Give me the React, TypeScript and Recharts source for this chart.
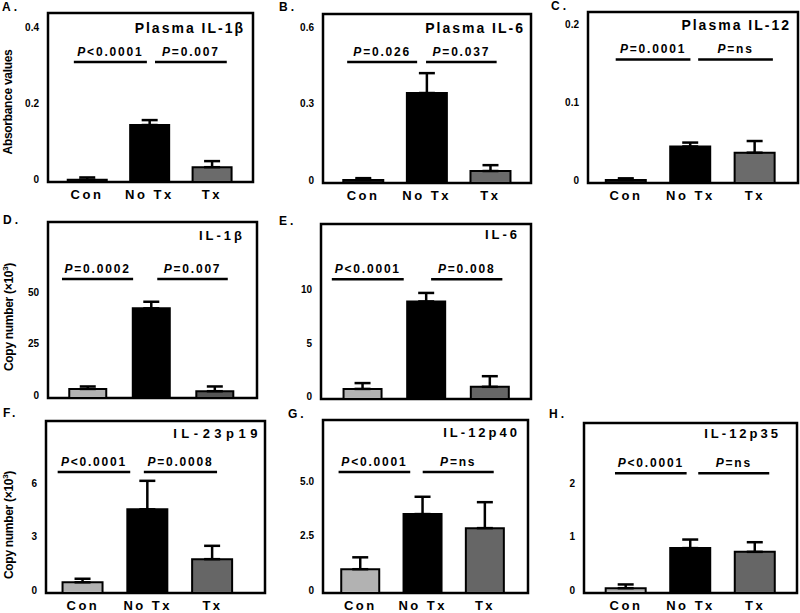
import React from 'react';
import { BarChart, Bar, XAxis, YAxis, ErrorBar, Cell, ReferenceArea, ReferenceLine } from 'recharts';

const categories = ['Con', 'No Tx', 'Tx'];
const catPos = [1, 2, 3];

// A. Plasma IL-1β
const aValues = [0.006, 0.15, 0.039];
const aErrors = [0.006, 0.013, 0.016];
const aTicks = [0, 0.2, 0.4];
const aTickLabels = ['0', '0.2', '0.4'];
const aPTexts = ['<0.0001', '=0.007'];
const aPSpans = [[0.79, 1.96], [2.09, 3.24]];
const aPLevel = 0.316;

// B. Plasma IL-6
const bValues = [0.012, 0.353, 0.047];
const bErrors = [0.007, 0.078, 0.023];
const bTicks = [0, 0.3, 0.6];
const bTickLabels = ['0', '0.3', '0.6'];
const bPTexts = ['=0.026', '=0.037'];
const bPSpans = [[0.75, 1.85], [1.99, 3.1]];
const bPLevel = 0.475;

// C. Plasma IL-12
const cValues = [0.004, 0.047, 0.039];
const cErrors = [0.002, 0.005, 0.015];
const cTicks = [0, 0.1, 0.2];
const cTickLabels = ['0', '0.1', '0.2'];
const cPTexts = ['=0.0001', '=ns'];
const cPSpans = [[0.84, 2.0], [2.12, 3.28]];
const cPLevel = 0.159;

// D. IL-1β
const dValues = [4.4, 43.5, 3.3];
const dErrors = [1.2, 3.2, 2.3];
const dTicks = [0, 25, 50];
const dTickLabels = ['0', '25', '50'];
const dPTexts = ['=0.0002', '=0.007'];
const dPSpans = [[0.59, 1.71], [2.09, 3.2]];
const dPLevel = 57.8;

// E. IL-6
const eValues = [0.95, 9.2, 1.15];
const eErrors = [0.55, 0.8, 1.0];
const eTicks = [0, 5, 10];
const eTickLabels = ['0', '5', '10'];
const ePTexts = ['<0.0001', '=0.008'];
const ePSpans = [[0.52, 1.65], [2.08, 3.2]];
const ePLevel = 11.3;

// F. IL-23p19
const fValues = [0.6, 4.7, 1.9];
const fErrors = [0.2, 1.6, 0.75];
const fTicks = [0, 3, 6];
const fTickLabels = ['0', '3', '6'];
const fPTexts = ['<0.0001', '=0.0008'];
const fPSpans = [[0.61, 1.73], [1.94, 3.07]];
const fPLevel = 6.8;

// G. IL-12p40
const gValues = [1.1, 3.65, 3.0];
const gErrors = [0.55, 0.8, 1.2];
const gTicks = [0, 2.5, 5];
const gTickLabels = ['0', '2.5', '5.0'];
const gPTexts = ['<0.0001', '=ns'];
const gPSpans = [[0.65, 1.8], [2.0, 3.14]];
const gPLevel = 5.6;

// H. IL-12p35
const hValues = [0.09, 0.84, 0.77];
const hErrors = [0.07, 0.16, 0.18];
const hTicks = [0, 1, 2];
const hTickLabels = ['0', '1', '2'];
const hPTexts = ['<0.0001', '=ns'];
const hPSpans = [[0.83, 1.94], [2.12, 3.22]];
const hPLevel = 2.24;

const plasmaColors = ['#111111', '#000000', '#6b6b6b'];
const tissueColors = ['#b2b2b2', '#000000', '#666666'];

const FONT = '"Liberation Sans", Arial, sans-serif';

type Frame = { l: number; t: number; r: number; b: number };

const panels = [
  { letter: 'A.', title: 'Plasma IL-1β', frame: { l: 48, t: 13, r: 253, b: 182 }, xDomain: [0.376, 3.66], yMax: 0.445, values: aValues, errors: aErrors, ticks: aTicks, tickLabels: aTickLabels, pTexts: aPTexts, pSpans: aPSpans, pLevel: aPLevel, colors: plasmaColors, showX: true, barSize: 39, letterPos: [2, 7], titlePos: [245, 28], titleSize: 14, titleSpacing: 2 },
  { letter: 'B.', title: 'Plasma IL-6', frame: { l: 323, t: 14, r: 531, b: 183 }, xDomain: [0.37, 3.64], yMax: 0.663, values: bValues, errors: bErrors, ticks: bTicks, tickLabels: bTickLabels, pTexts: bPTexts, pSpans: bPSpans, pLevel: bPLevel, colors: plasmaColors, showX: true, barSize: 40, letterPos: [279, 7], titlePos: [525, 28], titleSize: 14, titleSpacing: 2 },
  { letter: 'C.', title: 'Plasma IL-12', frame: { l: 588, t: 12, r: 798, b: 183 }, xDomain: [0.41, 3.67], yMax: 0.22, values: cValues, errors: cErrors, ticks: cTicks, tickLabels: cTickLabels, pTexts: cPTexts, pSpans: cPSpans, pLevel: cPLevel, colors: plasmaColors, showX: true, barSize: 40, letterPos: [551, 6], titlePos: [791, 25], titleSize: 14, titleSpacing: 2 },
  { letter: 'D.', title: 'IL-1β', frame: { l: 48, t: 222, r: 257, b: 398 }, xDomain: [0.37, 3.66], yMax: 85.4, values: dValues, errors: dErrors, ticks: dTicks, tickLabels: dTickLabels, pTexts: dPTexts, pSpans: dPSpans, pLevel: dPLevel, colors: ['#b2b2b2', '#000000', '#555555'], showX: false, barSize: 37, letterPos: [3, 220], titlePos: [245, 235], titleSize: 13, titleSpacing: 3 },
  { letter: 'E.', title: 'IL-6', frame: { l: 321, t: 224, r: 531, b: 399 }, xDomain: [0.35, 3.65], yMax: 16.5, values: eValues, errors: eErrors, ticks: eTicks, tickLabels: eTickLabels, pTexts: ePTexts, pSpans: ePSpans, pLevel: ePLevel, colors: tissueColors, showX: false, barSize: 38, letterPos: [279, 221], titlePos: [520, 234], titleSize: 13, titleSpacing: 3 },
  { letter: 'F.', title: 'IL-23p19', frame: { l: 46, t: 421, r: 265, b: 593 }, xDomain: [0.43, 3.81], yMax: 9.66, values: fValues, errors: fErrors, ticks: fTicks, tickLabels: fTickLabels, pTexts: fPTexts, pSpans: fPSpans, pLevel: fPLevel, colors: tissueColors, showX: true, barSize: 40, letterPos: [3, 413], titlePos: [262, 433], titleSize: 13, titleSpacing: 4.5 },
  { letter: 'G.', title: 'IL-12p40', frame: { l: 323, t: 420, r: 528, b: 593 }, xDomain: [0.4, 3.69], yMax: 8.0, values: gValues, errors: gErrors, ticks: gTicks, tickLabels: gTickLabels, pTexts: gPTexts, pSpans: gPSpans, pLevel: gPLevel, colors: tissueColors, showX: true, barSize: 38, letterPos: [288, 414], titlePos: [520, 432], titleSize: 13, titleSpacing: 3 },
  { letter: 'H.', title: 'IL-12p35', frame: { l: 584, t: 423, r: 797, b: 593 }, xDomain: [0.35, 3.65], yMax: 3.18, values: hValues, errors: hErrors, ticks: hTicks, tickLabels: hTickLabels, pTexts: hPTexts, pSpans: hPSpans, pLevel: hPLevel, colors: tissueColors, showX: true, barSize: 40, letterPos: [549, 414], titlePos: [781, 433], titleSize: 13, titleSpacing: 3 },
];

function PLabel(props: any) {
  const vb = props.viewBox || {};
  const x = (vb.x ?? 0) + (vb.width ?? 0) / 2;
  const y = (vb.y ?? 0) - 6;
  return (
    <text x={x} y={y} textAnchor="middle" fontFamily={FONT} fontWeight="bold" fontSize={12} fill="#000" style={{ letterSpacing: '1.8px' }}>
      <tspan fontStyle="italic">P</tspan>
      <tspan>{props.text}</tspan>
    </text>
  );
}

const YW = 45;
const MT = 4;
const MR = 6;
const XH = 20;

function Panel({ cfg }: { cfg: any }) {
  const frame: Frame = cfg.frame;
  const data = catPos.map((x, i) => ({ x, name: categories[i], value: cfg.values[i], err: [0, cfg.errors[i]] }));
  const w = frame.r - frame.l + YW + MR;
  const h = frame.b - frame.t + MT + XH;
  return (
    <div style={{ position: 'absolute', left: frame.l - YW, top: frame.t - MT }}>
      <BarChart width={w} height={h} data={data} margin={{ top: MT, right: MR, left: 0, bottom: 0 }}>
        <XAxis
          type="number"
          dataKey="x"
          domain={cfg.xDomain}
          allowDataOverflow
          ticks={catPos}
          interval={0}
          tickFormatter={(v: number) => categories[v - 1] ?? ''}
          axisLine={false}
          tickLine={false}
          tickMargin={2}
          height={XH}
          tick={cfg.showX ? { fontSize: 13, fontWeight: 700, fill: '#000', fontFamily: FONT, style: { letterSpacing: '2.5px' } } : false}
        />
        <YAxis
          type="number"
          domain={[0, cfg.yMax]}
          allowDataOverflow
          ticks={cfg.ticks}
          interval={0}
          tickFormatter={(v: number) => cfg.tickLabels[cfg.ticks.indexOf(v)] ?? String(v)}
          width={YW}
          axisLine={false}
          tickLine={false}
          tickMargin={3}
          tick={{ fontSize: 10, fontWeight: 700, fill: '#000', fontFamily: FONT, dy: -3 }}
        />
        <ReferenceArea x1={cfg.xDomain[0]} x2={cfg.xDomain[1]} y1={0} y2={cfg.yMax} fill="none" fillOpacity={0} stroke="#000" strokeWidth={2.5} ifOverflow="visible" />
        {cfg.pSpans.map((span: number[], i: number) => (
          <ReferenceLine
            key={i}
            segment={[{ x: span[0], y: cfg.pLevel }, { x: span[1], y: cfg.pLevel }]}
            stroke="#000"
            strokeWidth={2.5}
            ifOverflow="visible"
            label={(p: any) => <PLabel {...p} text={cfg.pTexts[i]} />}
          />
        ))}
        <Bar dataKey="value" barSize={cfg.barSize} isAnimationActive={false} stroke="#000" strokeWidth={2}>
          {data.map((d, i) => (
            <Cell key={d.name} fill={cfg.colors[i]} />
          ))}
          <ErrorBar dataKey="err" direction="y" width={8} stroke="#000" strokeWidth={2.5} isAnimationActive={false} />
        </Bar>
      </BarChart>
    </div>
  );
}

const yTitles = [
  { text: 'Absorbance values', cx: 8, cy: 102, sup: '' },
  { text: 'Copy number (×10', cx: 8, cy: 317, sup: '3' },
  { text: 'Copy number (×10', cx: 8, cy: 525, sup: '3' },
];

export default function App() {
  return (
    <div style={{ position: 'absolute', left: 0, top: 0, width: 800, height: 613, overflow: 'hidden', background: '#fff', fontFamily: FONT, color: '#000' }}>
      {panels.map((p) => (
        <Panel key={p.letter} cfg={p} />
      ))}
      {panels.map((p) => (
        <div key={'l' + p.letter} style={{ position: 'absolute', left: p.letterPos[0], top: p.letterPos[1], transform: 'translateY(-50%)', fontSize: 12, fontWeight: 700, letterSpacing: 3, lineHeight: 1, whiteSpace: 'nowrap' }}>
          {p.letter}
        </div>
      ))}
      {panels.map((p) => (
        <div key={'t' + p.letter} style={{ position: 'absolute', right: 800 - p.titlePos[0], top: p.titlePos[1], transform: 'translateY(-50%)', fontSize: p.titleSize, fontWeight: 700, letterSpacing: p.titleSpacing, lineHeight: 1, whiteSpace: 'nowrap' }}>
          {p.title}
        </div>
      ))}
      {yTitles.map((t, i) => (
        <div key={'y' + i} style={{ position: 'absolute', left: t.cx, top: t.cy, transform: 'translate(-50%, -50%) rotate(-90deg)', fontSize: 12, fontWeight: 700, letterSpacing: -0.3, lineHeight: 1, whiteSpace: 'nowrap' }}>
          {t.text}
          {t.sup ? <sup style={{ fontSize: 8 }}>{t.sup}</sup> : null}
          {t.sup ? ')' : ''}
        </div>
      ))}
    </div>
  );
}
